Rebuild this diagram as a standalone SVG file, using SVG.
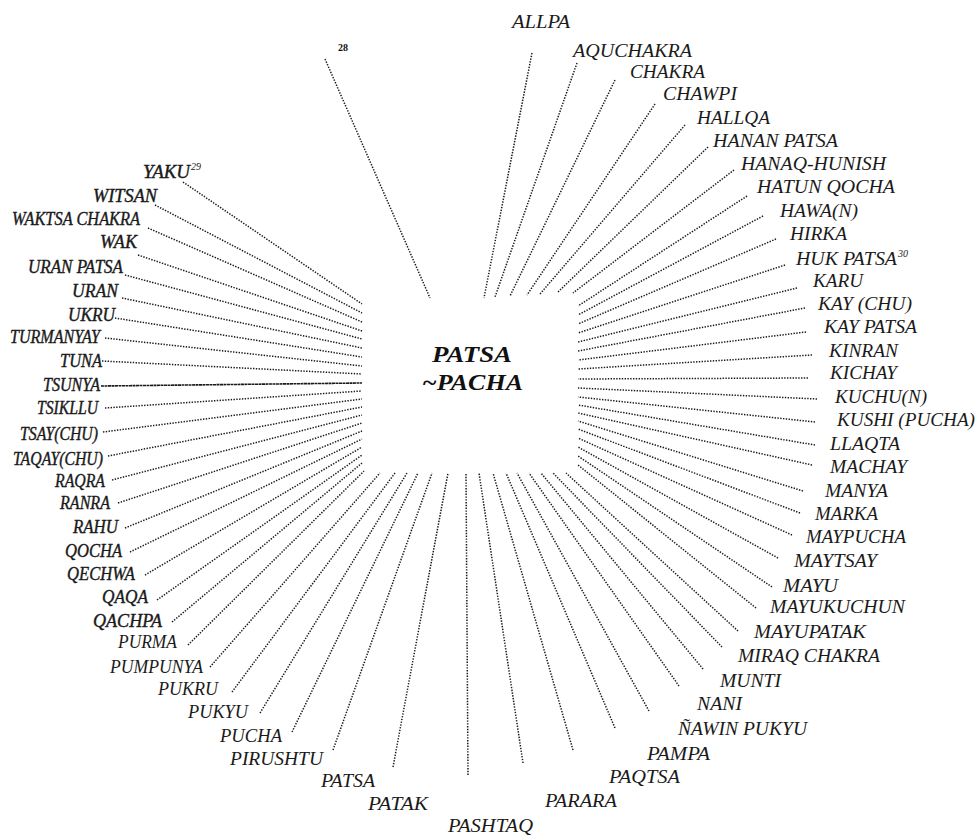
<svg xmlns="http://www.w3.org/2000/svg" width="978" height="835" viewBox="0 0 978 835">
<style>
.bg{fill:#fff}
.l{font-family:'Liberation Serif','DejaVu Serif',serif;font-style:italic;font-size:19px;fill:#1a1a1a}
.b{stroke:#1a1a1a;stroke-width:0.4}
.sup{font-family:'Liberation Serif','DejaVu Serif',serif;font-style:italic;font-size:10px;fill:#1a1a1a}
.c{font-family:'Liberation Serif','DejaVu Serif',serif;font-style:italic;font-weight:bold;font-size:23px;fill:#111}
.ln{stroke:#1a1a1a;stroke-width:1.5;stroke-dasharray:1.4 1.4;fill:none}
.solid{stroke-dasharray:3 0.5;stroke-width:1.6}
</style>
<rect class="bg" x="0" y="0" width="978" height="835"/>
<g id="connectors">
<line class="ln" x1="325" y1="59" x2="430" y2="298"/>
<line class="ln" x1="532" y1="53" x2="484" y2="298"/>
<line class="ln" x1="577" y1="63" x2="495" y2="297"/>
<line class="ln" x1="615" y1="80" x2="510" y2="296"/>
<line class="ln" x1="655" y1="104" x2="527" y2="295"/>
<line class="ln" x1="685" y1="125" x2="540" y2="294"/>
<line class="ln" x1="708" y1="147" x2="557" y2="293"/>
<line class="ln" x1="734" y1="170" x2="573" y2="293"/>
<line class="ln" x1="747" y1="196" x2="578" y2="306"/>
<line class="ln" x1="763" y1="216" x2="578" y2="315"/>
<line class="ln" x1="776" y1="239" x2="578" y2="324"/>
<line class="ln" x1="785" y1="265" x2="578" y2="333"/>
<line class="ln" x1="797" y1="288" x2="578" y2="342"/>
<line class="ln" x1="805" y1="308" x2="578" y2="351"/>
<line class="ln" x1="806" y1="332" x2="578" y2="360"/>
<line class="ln" x1="812" y1="355" x2="578" y2="369"/>
<line class="ln" x1="808" y1="378" x2="578" y2="379"/>
<line class="ln" x1="817" y1="399" x2="578" y2="388"/>
<line class="ln" x1="815" y1="422" x2="578" y2="397"/>
<line class="ln" x1="815" y1="445" x2="578" y2="405"/>
<line class="ln" x1="812" y1="465" x2="578" y2="413"/>
<line class="ln" x1="803" y1="491" x2="578" y2="421"/>
<line class="ln" x1="800" y1="513" x2="578" y2="429"/>
<line class="ln" x1="792" y1="535" x2="578" y2="438"/>
<line class="ln" x1="778" y1="558" x2="578" y2="447"/>
<line class="ln" x1="772" y1="587" x2="578" y2="456"/>
<line class="ln" x1="756" y1="608" x2="578" y2="465"/>
<line class="ln" x1="738" y1="631" x2="566" y2="473"/>
<line class="ln" x1="722" y1="647" x2="553" y2="473"/>
<line class="ln" x1="703" y1="669" x2="541" y2="473"/>
<line class="ln" x1="679" y1="686" x2="529" y2="473"/>
<line class="ln" x1="649" y1="711" x2="517" y2="473"/>
<line class="ln" x1="615" y1="728" x2="506" y2="473"/>
<line class="ln" x1="573" y1="750" x2="493" y2="473"/>
<line class="ln" x1="523" y1="763" x2="479" y2="473"/>
<line class="ln" x1="468" y1="775" x2="466" y2="473"/>
<line class="ln" x1="393" y1="767" x2="448" y2="473"/>
<line class="ln" x1="333" y1="750" x2="432" y2="473"/>
<line class="ln" x1="292" y1="732" x2="418" y2="473"/>
<line class="ln" x1="260" y1="713" x2="407" y2="473"/>
<line class="ln" x1="232" y1="692" x2="395" y2="473"/>
<line class="ln" x1="210" y1="667" x2="380" y2="473"/>
<line class="ln" x1="188" y1="645" x2="364" y2="471"/>
<line class="ln" x1="172" y1="622" x2="362" y2="463"/>
<line class="ln" x1="157" y1="600" x2="362" y2="455"/>
<line class="ln" x1="145" y1="575" x2="362" y2="447"/>
<line class="ln" x1="130" y1="552" x2="362" y2="439"/>
<line class="ln" x1="125" y1="528" x2="362" y2="431"/>
<line class="ln" x1="118" y1="503" x2="362" y2="423"/>
<line class="ln" x1="112" y1="480" x2="362" y2="415"/>
<line class="ln" x1="108" y1="456" x2="362" y2="407"/>
<line class="ln" x1="103" y1="432" x2="362" y2="399"/>
<line class="ln" x1="105" y1="408" x2="362" y2="391"/>
<line class="ln solid" x1="101" y1="386" x2="362" y2="383"/>
<line class="ln" x1="102" y1="361" x2="362" y2="374"/>
<line class="ln" x1="105" y1="338" x2="362" y2="366"/>
<line class="ln" x1="115" y1="318" x2="362" y2="357"/>
<line class="ln" x1="122" y1="298" x2="362" y2="348"/>
<line class="ln" x1="125" y1="275" x2="362" y2="339"/>
<line class="ln" x1="138" y1="255" x2="362" y2="331"/>
<line class="ln" x1="148" y1="228" x2="362" y2="322"/>
<line class="ln" x1="155" y1="205" x2="362" y2="313"/>
<line class="ln" x1="183" y1="182" x2="362" y2="304"/>
</g>
<g id="center"><text class="c" x="432" y="362" textLength="80" lengthAdjust="spacingAndGlyphs">PATSA</text><text class="c" x="422" y="390" textLength="101" lengthAdjust="spacingAndGlyphs">~PACHA</text></g>
<g id="n28"><text x="338" y="51" style="font-family:'Liberation Serif','DejaVu Serif',serif;font-weight:bold;font-size:10px;fill:#111">28</text></g>
<g id="allpa"><text class="l" x="512" y="28" textLength="58" lengthAdjust="spacingAndGlyphs">ALLPA</text></g>
<g id="aquchakra"><text class="l" x="573" y="57" textLength="119" lengthAdjust="spacingAndGlyphs">AQUCHAKRA</text></g>
<g id="chakra"><text class="l" x="630" y="78" textLength="75" lengthAdjust="spacingAndGlyphs">CHAKRA</text></g>
<g id="chawpi"><text class="l" x="663" y="100" textLength="74" lengthAdjust="spacingAndGlyphs">CHAWPI</text></g>
<g id="hallqa"><text class="l" x="697" y="124" textLength="73" lengthAdjust="spacingAndGlyphs">HALLQA</text></g>
<g id="hananpatsa"><text class="l" x="713" y="147" textLength="125" lengthAdjust="spacingAndGlyphs">HANAN PATSA</text></g>
<g id="hanaqhunish"><text class="l" x="741" y="170" textLength="145" lengthAdjust="spacingAndGlyphs">HANAQ-HUNISH</text></g>
<g id="hatunqocha"><text class="l" x="757" y="193" textLength="138" lengthAdjust="spacingAndGlyphs">HATUN QOCHA</text></g>
<g id="hawan"><text class="l" x="780" y="217" textLength="78" lengthAdjust="spacingAndGlyphs">HAWA(N)</text></g>
<g id="hirka"><text class="l" x="790" y="240" textLength="57" lengthAdjust="spacingAndGlyphs">HIRKA</text></g>
<g id="hukpatsa"><text class="l" x="796" y="265" textLength="101" lengthAdjust="spacingAndGlyphs">HUK PATSA</text><text class="sup" x="898" y="257">30</text></g>
<g id="karu"><text class="l" x="813" y="287" textLength="50" lengthAdjust="spacingAndGlyphs">KARU</text></g>
<g id="kaychu"><text class="l" x="818" y="310" textLength="94" lengthAdjust="spacingAndGlyphs">KAY (CHU)</text></g>
<g id="kaypatsa"><text class="l" x="824" y="333" textLength="93" lengthAdjust="spacingAndGlyphs">KAY PATSA</text></g>
<g id="kinran"><text class="l" x="829" y="357" textLength="69" lengthAdjust="spacingAndGlyphs">KINRAN</text></g>
<g id="kichay"><text class="l" x="830" y="379" textLength="67" lengthAdjust="spacingAndGlyphs">KICHAY</text></g>
<g id="kuchun"><text class="l" x="835" y="403" textLength="92" lengthAdjust="spacingAndGlyphs">KUCHU(N)</text></g>
<g id="kushi"><text class="l" x="837" y="426" textLength="138" lengthAdjust="spacingAndGlyphs">KUSHI (PUCHA)</text></g>
<g id="llaqta"><text class="l" x="830" y="450" textLength="70" lengthAdjust="spacingAndGlyphs">LLAQTA</text></g>
<g id="machay"><text class="l" x="830" y="473" textLength="77" lengthAdjust="spacingAndGlyphs">MACHAY</text></g>
<g id="manya"><text class="l" x="825" y="497" textLength="63" lengthAdjust="spacingAndGlyphs">MANYA</text></g>
<g id="marka"><text class="l" x="815" y="520" textLength="63" lengthAdjust="spacingAndGlyphs">MARKA</text></g>
<g id="maypucha"><text class="l" x="806" y="543" textLength="100" lengthAdjust="spacingAndGlyphs">MAYPUCHA</text></g>
<g id="maytsay"><text class="l" x="794" y="567" textLength="83" lengthAdjust="spacingAndGlyphs">MAYTSAY</text></g>
<g id="mayu"><text class="l" x="783" y="592" textLength="55" lengthAdjust="spacingAndGlyphs">MAYU</text></g>
<g id="mayukuchun"><text class="l" x="770" y="613" textLength="135" lengthAdjust="spacingAndGlyphs">MAYUKUCHUN</text></g>
<g id="mayupatak"><text class="l" x="754" y="638" textLength="112" lengthAdjust="spacingAndGlyphs">MAYUPATAK</text></g>
<g id="miraqchakra"><text class="l" x="738" y="662" textLength="142" lengthAdjust="spacingAndGlyphs">MIRAQ CHAKRA</text></g>
<g id="munti"><text class="l" x="720" y="687" textLength="61" lengthAdjust="spacingAndGlyphs">MUNTI</text></g>
<g id="nani"><text class="l" x="697" y="710" textLength="45" lengthAdjust="spacingAndGlyphs">NANI</text></g>
<g id="nawinpukyu"><text class="l" x="678" y="735" textLength="129" lengthAdjust="spacingAndGlyphs">ÑAWIN PUKYU</text></g>
<g id="pampa"><text class="l" x="647" y="760" textLength="63" lengthAdjust="spacingAndGlyphs">PAMPA</text></g>
<g id="paqtsa"><text class="l" x="609" y="783" textLength="71" lengthAdjust="spacingAndGlyphs">PAQTSA</text></g>
<g id="parara"><text class="l" x="545" y="807" textLength="72" lengthAdjust="spacingAndGlyphs">PARARA</text></g>
<g id="pashtaq"><text class="l" x="448" y="832" textLength="85" lengthAdjust="spacingAndGlyphs">PASHTAQ</text></g>
<g id="patak"><text class="l" x="368" y="810" textLength="60" lengthAdjust="spacingAndGlyphs">PATAK</text></g>
<g id="patsa"><text class="l" x="321" y="787" textLength="54" lengthAdjust="spacingAndGlyphs">PATSA</text></g>
<g id="pirushtu"><text class="l" x="230" y="765" textLength="93" lengthAdjust="spacingAndGlyphs">PIRUSHTU</text></g>
<g id="pucha"><text class="l" x="220" y="742" textLength="62" lengthAdjust="spacingAndGlyphs">PUCHA</text></g>
<g id="pukyu"><text class="l" x="188" y="718" textLength="60" lengthAdjust="spacingAndGlyphs">PUKYU</text></g>
<g id="pukru"><text class="l" x="158" y="695" textLength="60" lengthAdjust="spacingAndGlyphs">PUKRU</text></g>
<g id="pumpunya"><text class="l" x="110" y="673" textLength="93" lengthAdjust="spacingAndGlyphs">PUMPUNYA</text></g>
<g id="purma"><text class="l" x="118" y="648" textLength="59" lengthAdjust="spacingAndGlyphs">PURMA</text></g>
<g id="qachpa"><text class="l b" x="93" y="627" textLength="69" lengthAdjust="spacingAndGlyphs">QACHPA</text></g>
<g id="qaqa"><text class="l b" x="102" y="603" textLength="46" lengthAdjust="spacingAndGlyphs">QAQA</text></g>
<g id="qechwa"><text class="l b" x="67" y="580" textLength="68" lengthAdjust="spacingAndGlyphs">QECHWA</text></g>
<g id="qocha"><text class="l b" x="65" y="557" textLength="57" lengthAdjust="spacingAndGlyphs">QOCHA</text></g>
<g id="rahu"><text class="l b" x="73" y="533" textLength="45" lengthAdjust="spacingAndGlyphs">RAHU</text></g>
<g id="ranra"><text class="l b" x="60" y="509" textLength="50" lengthAdjust="spacingAndGlyphs">RANRA</text></g>
<g id="raqra"><text class="l b" x="55" y="487" textLength="50" lengthAdjust="spacingAndGlyphs">RAQRA</text></g>
<g id="taqaychu"><text class="l b" x="13" y="465" textLength="90" lengthAdjust="spacingAndGlyphs">TAQAY(CHU)</text></g>
<g id="tsaychu"><text class="l b" x="20" y="440" textLength="78" lengthAdjust="spacingAndGlyphs">TSAY(CHU)</text></g>
<g id="tsikllu"><text class="l b" x="37" y="414" textLength="61" lengthAdjust="spacingAndGlyphs">TSIKLLU</text></g>
<g id="tsunya"><text class="l b" x="43" y="391" textLength="57" lengthAdjust="spacingAndGlyphs">TSUNYA</text></g>
<g id="tuna"><text class="l b" x="60" y="367" textLength="42" lengthAdjust="spacingAndGlyphs">TUNA</text></g>
<g id="turmanyay"><text class="l b" x="10" y="343" textLength="90" lengthAdjust="spacingAndGlyphs">TURMANYAY</text></g>
<g id="ukru"><text class="l b" x="68" y="321" textLength="47" lengthAdjust="spacingAndGlyphs">UKRU</text></g>
<g id="uran"><text class="l b" x="72" y="297" textLength="46" lengthAdjust="spacingAndGlyphs">URAN</text></g>
<g id="uranpatsa"><text class="l b" x="28" y="273" textLength="95" lengthAdjust="spacingAndGlyphs">URAN PATSA</text></g>
<g id="wak"><text class="l b" x="100" y="248" textLength="37" lengthAdjust="spacingAndGlyphs">WAK</text></g>
<g id="waktsachakra"><text class="l b" x="12" y="225" textLength="128" lengthAdjust="spacingAndGlyphs">WAKTSA CHAKRA</text></g>
<g id="witsan"><text class="l b" x="93" y="202" textLength="64" lengthAdjust="spacingAndGlyphs">WITSAN</text></g>
<g id="yaku"><text class="l b" x="143" y="178" textLength="47" lengthAdjust="spacingAndGlyphs">YAKU</text><text class="sup" x="191" y="170">29</text></g>
</svg>
